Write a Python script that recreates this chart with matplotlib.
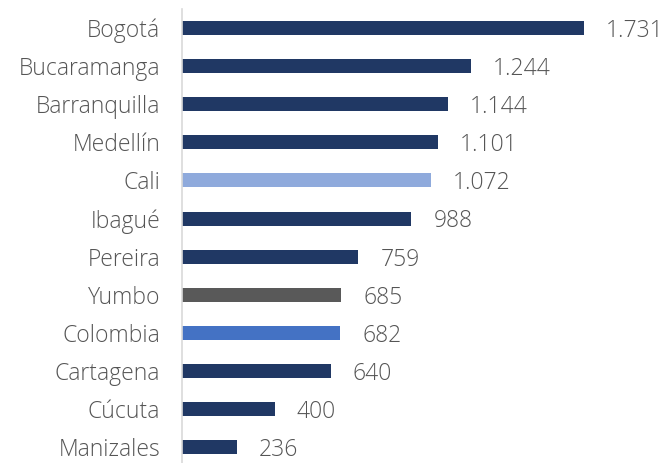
import matplotlib
matplotlib.use("Agg")
import matplotlib.pyplot as plt

cities = ["Bogotá", "Bucaramanga", "Barranquilla", "Medellín", "Cali", "Ibagué",
          "Pereira", "Yumbo", "Colombia", "Cartagena", "Cúcuta", "Manizales"]
values = [1731, 1244, 1144, 1101, 1072, 988, 759, 685, 682, 640, 400, 236]
labels = ["1.731", "1.244", "1.144", "1.101", "1.072", "988", "759", "685", "682", "640", "400", "236"]
navy = "#203864"
colors = [navy, navy, navy, navy, "#8FAADC", navy, navy, "#595959", "#4472C4", navy, navy, navy]

W, H = 663, 464
fig = plt.figure(figsize=(W / 100, H / 100), dpi=100)
ax = fig.add_axes([182 / W, 0, (W - 182) / W, 1 - 10 / H])
scale = (584 - 182) / 1731
ax.set_xlim(0, (W - 182) / scale)
spacing = 38.1
ax.set_ylim((464 - 29) / spacing, -(29 - 10) / spacing)

fkw = dict(fontsize=16.5, color="#555555", family="Open Sans", fontweight="light")
ypos = list(range(len(cities)))
ax.barh(ypos, values, height=14 / spacing, color=colors)
for y, v, lab in zip(ypos, values, labels):
    ax.text(v + 22 / scale, y + 0.05, lab, va="center", ha="left", clip_on=False, **fkw)
for y, c in zip(ypos, cities):
    ax.text(-22 / scale, y + 0.05, c, va="center", ha="right", clip_on=False, **fkw)

for s in ["top", "right", "bottom"]:
    ax.spines[s].set_visible(False)
ax.spines["left"].set_color("#D9D9D9")
ax.spines["left"].set_linewidth(1.2)
ax.set_xticks([])
ax.set_yticks([])
fig.savefig("out.png", dpi=100)
